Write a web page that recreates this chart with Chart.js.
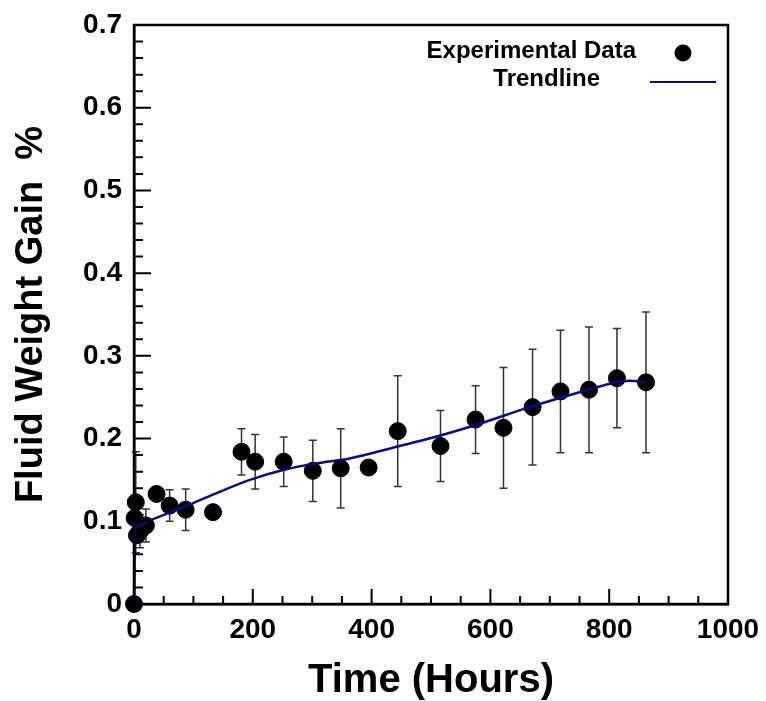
<!DOCTYPE html>
<html>
<head>
<meta charset="utf-8">
<title>Fluid Weight Gain</title>
<script src="https://cdn.jsdelivr.net/npm/chart.js@4.4.1/dist/chart.umd.min.js"></script>
<style>
  html, body { margin: 0; padding: 0; background: #fff; }
  #wrap { width: 766px; height: 701px; }
</style>
</head>
<body>
<div id="wrap"><canvas id="chart" width="766" height="701"></canvas></div>
<script>
// measured points (hours, % gain, +/- error)
const hours = [0, 1, 3, 5, 10, 20, 38, 60, 87, 133, 181, 204, 252, 301, 348, 395, 444, 516, 575, 622, 671, 718, 766, 813, 862];
const gain = [0, 0.104, 0.123, 0.083, 0.088, 0.095, 0.133, 0.119, 0.114, 0.111, 0.184, 0.172, 0.172, 0.161, 0.164, 0.165, 0.209, 0.191, 0.223, 0.213, 0.238, 0.257, 0.259, 0.273, 0.268];
const gainErr = [0, 0, 0.061, 0, 0.02, 0.02, 0, 0.019, 0.025, 0, 0.028, 0.033, 0.03, 0.037, 0.048, 0, 0.067, 0.043, 0.041, 0.073, 0.07, 0.074, 0.076, 0.06, 0.085];

// trendline
const trendHours = [0, 2, 5, 27, 83, 139, 195, 251, 307, 363, 447, 497, 582, 666, 750, 805, 834, 862];
const trendGain = [0, 0.09, 0.094, 0.101, 0.117, 0.134, 0.150, 0.162, 0.170, 0.176, 0.191, 0.200, 0.218, 0.238, 0.256, 0.267, 0.270, 0.268];

const xTicks = [0, 200, 400, 600, 800, 1000];
const yTicks = [0, 0.1, 0.2, 0.3, 0.4, 0.5, 0.6, 0.7];

const legendLabels = ['Experimental Data', 'Trendline'];

const FONT = "'Liberation Sans', Arial, sans-serif";
const lineColor = '#0a0a8a';

// error bars, drawn under the points
const errorBars = {
    id: 'errorBars',
    beforeDatasetsDraw(chart) {
        const ctx = chart.ctx;
        const xs = chart.scales.x, ys = chart.scales.y;
        ctx.save();
        ctx.strokeStyle = '#333';
        ctx.lineWidth = 1.5;
        hours.forEach((h, i) => {
            const e = gainErr[i];
            if (!e) return;
            const px = xs.getPixelForValue(h);
            const top = ys.getPixelForValue(gain[i] + e);
            const bot = ys.getPixelForValue(gain[i] - e);
            ctx.beginPath();
            ctx.moveTo(px, top); ctx.lineTo(px, bot);
            ctx.moveTo(px - 4, top); ctx.lineTo(px + 4, top);
            ctx.moveTo(px - 4, bot); ctx.lineTo(px + 4, bot);
            ctx.stroke();
        });
        ctx.restore();
    }
};

// box frame and inward tick marks
const frameTicks = {
    id: 'frameTicks',
    afterDraw(chart) {
        const ctx = chart.ctx;
        const a = chart.chartArea;
        const xs = chart.scales.x, ys = chart.scales.y;
        ctx.save();
        ctx.strokeStyle = '#000';
        ctx.lineWidth = 2.5;
        ctx.strokeRect(a.left, a.top, a.right - a.left, a.bottom - a.top);

        ctx.lineWidth = 2;
        ctx.beginPath();
        for (let v = 50; v < 1000; v += 50) {
            const px = xs.getPixelForValue(v);
            const len = v % 200 === 0 ? 15 : 8;
            ctx.moveTo(px, a.bottom); ctx.lineTo(px, a.bottom - len);
        }
        for (let k = 1; k < 35; k++) {
            const py = ys.getPixelForValue(k * 0.02);
            const len = k % 5 === 0 ? 17 : 9;
            ctx.moveTo(a.left, py); ctx.lineTo(a.left + len, py);
        }
        ctx.stroke();
        ctx.restore();
    }
};

// legend in the upper right corner, label on the left of its key
const cornerLegend = {
    id: 'cornerLegend',
    afterDraw(chart) {
        const ctx = chart.ctx;
        const a = chart.chartArea;
        ctx.save();
        ctx.font = 'bold 24px ' + FONT;
        ctx.fillStyle = '#000';
        ctx.textAlign = 'right';
        ctx.textBaseline = 'middle';
        ctx.fillText(legendLabels[0], a.right - 92, a.top + 26);
        ctx.fillText(legendLabels[1], a.right - 128, a.top + 54);

        ctx.beginPath();
        ctx.arc(a.right - 45, a.top + 28, 8.5, 0, Math.PI * 2);
        ctx.fill();

        ctx.strokeStyle = lineColor;
        ctx.lineWidth = 2;
        ctx.beginPath();
        ctx.moveTo(a.right - 78, a.top + 57);
        ctx.lineTo(a.right - 12, a.top + 57);
        ctx.stroke();
        ctx.restore();
    }
};

const ctx = document.getElementById('chart').getContext('2d');
new Chart(ctx, {
    type: 'scatter',
    data: {
        datasets: [
            {
                label: legendLabels[1],
                type: 'line',
                data: trendHours.map((h, i) => ({ x: h, y: trendGain[i] })),
                borderColor: lineColor,
                borderWidth: 2.5,
                pointRadius: 0,
                fill: false,
                cubicInterpolationMode: 'monotone',
                order: 0,
                clip: false
            },
            {
                label: legendLabels[0],
                data: hours.map((h, i) => ({ x: h, y: gain[i] })),
                backgroundColor: '#000',
                borderColor: '#000',
                pointRadius: 8.5,
                pointHoverRadius: 8.5,
                order: 1,
                clip: false
            }
        ]
    },
    options: {
        responsive: false,
        animation: false,
        layout: { padding: { top: 25, right: 38, left: 0, bottom: 0 } },
        plugins: {
            legend: { display: false },
            tooltip: { enabled: false }
        },
        scales: {
            x: {
                type: 'linear',
                min: 0,
                max: 1000,
                afterFit: s => { s.height = 97; s.paddingLeft = 0; s.paddingRight = 0; },
                afterBuildTicks: s => { s.ticks = xTicks.map(v => ({ value: v })); },
                grid: { display: false, drawTicks: false },
                border: { display: true, color: '#000', width: 2.5 },
                ticks: {
                    color: '#000',
                    padding: 9,
                    maxRotation: 0,
                    font: { family: FONT, size: 28, weight: 'bold' },
                    callback: v => String(v)
                },
                title: {
                    display: true,
                    text: 'Time (Hours)',
                    color: '#000',
                    font: { family: FONT, size: 40, weight: 'bold', lineHeight: 1 },
                    padding: { top: 0, bottom: 0 }
                }
            },
            y: {
                type: 'linear',
                min: 0,
                max: 0.7,
                afterFit: s => { s.width = 134; s.paddingTop = 0; s.paddingBottom = 0; },
                afterBuildTicks: s => { s.ticks = yTicks.map(v => ({ value: v })); },
                grid: { display: false, drawTicks: false },
                border: { display: true, color: '#000', width: 2.5 },
                ticks: {
                    color: '#000',
                    padding: 12,
                    font: { family: FONT, size: 28, weight: 'bold' },
                    callback: v => String(Math.round(v * 10) / 10)
                },
                title: {
                    display: true,
                    text: 'Fluid Weight Gain  %',
                    color: '#000',
                    font: { family: FONT, size: 38, weight: 'bold', lineHeight: 1 },
                    padding: { top: 13, bottom: 0 }
                }
            }
        }
    },
    plugins: [errorBars, frameTicks, cornerLegend]
});
</script>
</body>
</html>
